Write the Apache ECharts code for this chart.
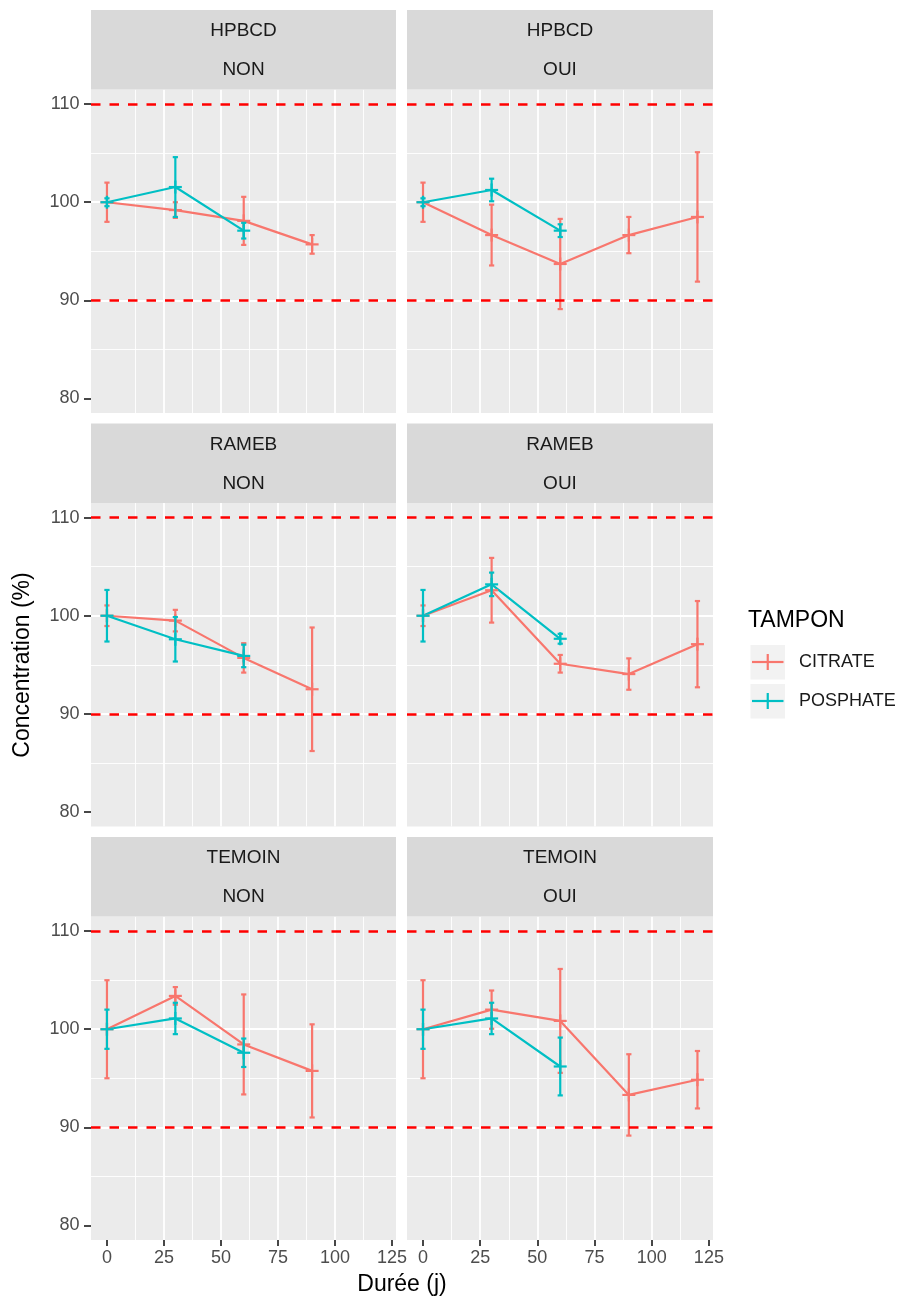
<!DOCTYPE html>
<html>
<head>
<meta charset="utf-8">
<title>Concentration (%) selon la durée</title>
<script src="https://cdn.jsdelivr.net/npm/echarts@6.0.0/dist/echarts.min.js"></script>
<style>
  html, body { margin: 0; padding: 0; background: #ffffff; }
  #chart { width: 906px; height: 1298px; }
</style>
</head>
<body>
<div id="chart"></div>
<script>
// valeurs : [moyenne, demi-barre d'erreur] pour chaque durée
const durees = [0, 30, 60, 90, 120]
const cyclodextrines = ['HPBCD', 'RAMEB', 'TEMOIN']
const conservation = ['NON', 'OUI']
const tampons = ['CITRATE', 'POSPHATE']
const xTicks = [0, 25, 50, 75, 100, 125]
const yTicks = [80, 90, 100, 110]
const limites = [90, 110]

const hpbcdNonCitrate = [[100, 2.0], [99.2, 0.8], [98.1, 2.45], [95.7, 0.95]]
const hpbcdNonPosphate = [[100, 0.4], [101.55, 3.05], [97.1, 0.8]]
const hpbcdOuiCitrate = [[100, 2.0], [96.65, 3.1], [93.7, 4.6], [96.65, 1.85], [98.5, 6.6]]
const hpbcdOuiPosphate = [[100, 0.4], [101.25, 1.15], [97.1, 0.65]]
const ramebNonCitrate = [[100, 1.05], [99.5, 1.1], [95.7, 1.5], [92.5, 6.3]]
const ramebNonPosphate = [[100, 2.63], [97.6, 2.27], [95.9, 1.15]]
const ramebOuiCitrate = [[100, 1.05], [102.6, 3.3], [95.1, 0.9], [94.05, 1.6], [97.1, 4.4]]
const ramebOuiPosphate = [[100, 2.63], [103.2, 1.2], [97.65, 0.5]]
const temoinNonCitrate = [[100, 5.0], [103.4, 0.9], [98.45, 5.1], [95.75, 4.75]]
const temoinNonPosphate = [[100, 2.0], [101.1, 1.6], [97.6, 1.45]]
const temoinOuiCitrate = [[100, 5.0], [102.0, 1.95], [100.85, 5.3], [93.3, 4.15], [94.85, 2.93]]
const temoinOuiPosphate = [[100, 2.0], [101.1, 1.6], [96.2, 2.95]]

// panneaux dans l'ordre ligne par ligne : [citrate, posphate]
const panneaux = [
  [hpbcdNonCitrate, hpbcdNonPosphate], [hpbcdOuiCitrate, hpbcdOuiPosphate],
  [ramebNonCitrate, ramebNonPosphate], [ramebOuiCitrate, ramebOuiPosphate],
  [temoinNonCitrate, temoinNonPosphate], [temoinOuiCitrate, temoinOuiPosphate]
]

const couleurs = ['#F8766D', '#00BFC4']
const police = '"Liberation Sans", Arial, sans-serif'
const colLeft = [91, 407]
const colWidth = [305, 306]
const rowTop = [89.5, 503, 916.5]
const panelHeight = 323.5
const stripHeight = 79.5

const chart = echarts.init(document.getElementById('chart'), null, { renderer: 'canvas' })

function renderErrorbar(params, api) {
  const x = api.value(0)
  const m = api.value(1)
  const e = api.value(2)
  const haut = api.coord([x, m + e])
  const bas = api.coord([x, m - e])
  const mil = api.coord([x, m])
  const style = { stroke: api.visual('color'), lineWidth: 2.2, fill: null }
  const seg = (x1, y1, x2, y2) => ({ type: 'line', shape: { x1, y1, x2, y2 }, style })
  return {
    type: 'group',
    children: [
      seg(haut[0], haut[1], bas[0], bas[1]),
      seg(haut[0] - 2.6, haut[1], haut[0] + 2.6, haut[1]),
      seg(bas[0] - 2.6, bas[1], bas[0] + 2.6, bas[1]),
      seg(mil[0] - 6.5, mil[1], mil[0] + 6.5, mil[1]),
      seg(mil[0], mil[1] - 6.5, mil[0], mil[1] + 6.5)
    ]
  }
}

const grids = []
const xAxes = []
const yAxes = []
const series = []
const graphics = []

panneaux.forEach((paire, i) => {
  const row = Math.floor(i / 2)
  const col = i % 2
  const bottom = row === 2
  const left = col === 0

  grids.push({
    left: colLeft[col], top: rowTop[row], width: colWidth[col], height: panelHeight,
    show: true, backgroundColor: '#EBEBEB', borderWidth: 0, containLabel: false
  })

  xAxes.push({
    type: 'value', gridIndex: i, min: -7, max: 126.8,
    splitNumber: 5, minInterval: 25, maxInterval: 25,
    axisLine: { show: false, onZero: false },
    axisTick: { show: bottom, length: 6, customValues: xTicks, lineStyle: { color: '#333333', width: 1.8 } },
    axisLabel: {
      show: bottom, margin: 9, fontSize: 18, color: '#4D4D4D', fontFamily: police,
      customValues: xTicks
    },
    splitLine: { show: true, showMinLine: false, showMaxLine: false, lineStyle: { color: '#FFFFFF', width: 1.8 } },
    minorTick: { show: false, splitNumber: 2 },
    minorSplitLine: { show: true, lineStyle: { color: '#FFFFFF', width: 0.9 } }
  })

  yAxes.push({
    type: 'value', gridIndex: i, min: 78.5, max: 111.5,
    splitNumber: 3, minInterval: 10, maxInterval: 10,
    axisLine: { show: false, onZero: false },
    axisTick: { show: left, length: 7, customValues: yTicks, lineStyle: { color: '#333333', width: 1.8 } },
    axisLabel: {
      show: left, margin: 11.5, fontSize: 18, color: '#4D4D4D', fontFamily: police,
      customValues: yTicks
    },
    splitLine: { show: true, showMinLine: false, showMaxLine: false, lineStyle: { color: '#FFFFFF', width: 1.8 } },
    minorTick: { show: false, splitNumber: 2 },
    minorSplitLine: { show: true, lineStyle: { color: '#FFFFFF', width: 0.9 } }
  })

  // lignes reliant les moyennes
  paire.forEach((valeurs, t) => {
    const s = {
      name: tampons[t], type: 'line', xAxisIndex: i, yAxisIndex: i,
      data: valeurs.map((v, k) => [durees[k], v[0]]),
      symbol: 'none', silent: true, animation: false,
      lineStyle: { color: couleurs[t], width: 2.2 },
      itemStyle: { color: couleurs[t] },
      z: 3
    }
    if (t === 0) {
      s.markLine = {
        silent: true, symbol: ['none', 'none'], animation: false,
        label: { show: false },
        lineStyle: { color: '#FF0000', width: 2.6, type: [9.5, 9], opacity: 1 },
        data: limites.map(v => ({ yAxis: v }))
      }
    }
    series.push(s)
  })

  // barres d'erreur et symboles +
  paire.forEach((valeurs, t) => {
    series.push({
      name: tampons[t], type: 'custom', xAxisIndex: i, yAxisIndex: i,
      data: valeurs.map((v, k) => [durees[k], v[0], v[1]]),
      encode: { x: 0, y: 1 },
      renderItem: renderErrorbar,
      itemStyle: { color: couleurs[t] },
      silent: true, animation: false, z: 4
    })
  })

  // bandeau de facette
  const sx = colLeft[col]
  const sy = rowTop[row] - stripHeight
  graphics.push({
    type: 'rect', silent: true, z: 1,
    shape: { x: sx, y: sy, width: colWidth[col], height: stripHeight },
    style: { fill: '#D9D9D9' }
  })
  graphics.push({
    type: 'text', silent: true, z: 2, x: sx + colWidth[col] / 2, y: sy + 21,
    style: { text: cyclodextrines[row], fontSize: 19, fontFamily: police, fill: '#1A1A1A', align: 'center', verticalAlign: 'middle' }
  })
  graphics.push({
    type: 'text', silent: true, z: 2, x: sx + colWidth[col] / 2, y: sy + 60,
    style: { text: conservation[col], fontSize: 19, fontFamily: police, fill: '#1A1A1A', align: 'center', verticalAlign: 'middle' }
  })
})

// titres des axes
graphics.push({
  type: 'text', silent: true, x: 402, y: 1285,
  style: { text: 'Durée (j)', fontSize: 23, fontFamily: police, fill: '#000000', align: 'center', verticalAlign: 'middle' }
})
graphics.push({
  type: 'text', silent: true, x: 23, y: 665, rotation: Math.PI / 2,
  style: { text: 'Concentration (%)', fontSize: 23, fontFamily: police, fill: '#000000', align: 'center', verticalAlign: 'middle' }
})

// légende
graphics.push({
  type: 'text', silent: true, x: 748, y: 621,
  style: { text: 'TAMPON', fontSize: 23, fontFamily: police, fill: '#000000', align: 'left', verticalAlign: 'middle' }
})
tampons.forEach((nom, t) => {
  const top = 645 + t * 39
  const cy = top + 17
  graphics.push({
    type: 'rect', silent: true, shape: { x: 750.5, y: top, width: 34.5, height: 34.5 },
    style: { fill: '#F2F2F2' }
  })
  graphics.push({
    type: 'line', silent: true, shape: { x1: 752, y1: cy, x2: 783.5, y2: cy },
    style: { stroke: couleurs[t], lineWidth: 2.2 }
  })
  graphics.push({
    type: 'line', silent: true, shape: { x1: 767.75, y1: cy - 8, x2: 767.75, y2: cy + 8 },
    style: { stroke: couleurs[t], lineWidth: 2.2 }
  })
  graphics.push({
    type: 'text', silent: true, x: 799, y: cy,
    style: { text: nom, fontSize: 18, fontFamily: police, fill: '#1A1A1A', align: 'left', verticalAlign: 'middle' }
  })
})

chart.setOption({
  animation: false,
  backgroundColor: '#FFFFFF',
  grid: grids,
  xAxis: xAxes,
  yAxis: yAxes,
  series: series,
  graphic: { elements: graphics }
})
</script>
</body>
</html>
